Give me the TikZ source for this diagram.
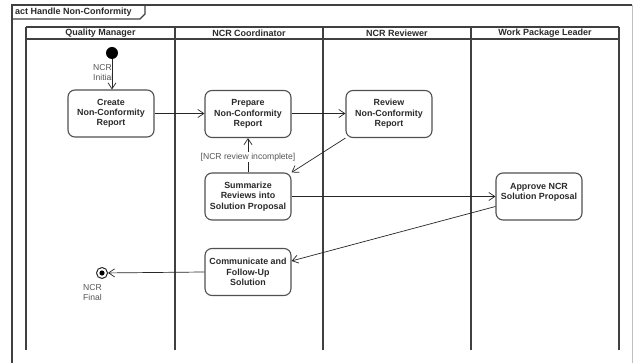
\documentclass[tikz,border=0pt]{standalone}
\usepackage{fontspec}
\setmainfont{Liberation Sans}
\usetikzlibrary{arrows.meta}
\definecolor{lanec}{HTML}{404040}
\definecolor{boxc}{HTML}{505050}
\definecolor{txtc}{HTML}{2A2A2A}
\definecolor{lblc}{HTML}{555555}
\tikzset{
  act/.style={draw=boxc, line width=1.1pt, rounded corners=7pt, minimum width=86pt, minimum height=47pt,
    align=center, inner sep=1pt, text=txtc, font=\fontsize{8.9}{10.3}\selectfont\bfseries},
  flow/.style={draw=black!85, line width=0.7pt, -{Straight Barb[length=6pt,width=8pt]}},
  lbl/.style={text=lblc, font=\fontsize{8.6}{10}\selectfont, align=left, inner sep=0pt},
  lane/.style={draw=lanec, line width=1.2pt},
  hdr/.style={font=\fontsize{9}{10}\selectfont\bfseries, text=txtc, inner sep=0pt}
}
\begin{document}
\begin{tikzpicture}[x=1pt, y=-1pt]
\useasboundingbox (0,0) rectangle (633,363);
\fill[white] (0,0) rectangle (633,363);
% frame
\draw[lanec, line width=1.2pt] (12,363) -- (12,5) -- (632,5);
\draw[black!25, line width=0.8pt] (632,5) -- (632,363);
\draw[lanec, line width=1.2pt] (12,19) -- (140,19) -- (145,14) -- (145,5);
\node[hdr, anchor=west] (title) at (15,12) {act Handle Non-Conformity};
% lanes
\draw[lane] (26,27) -- (619,27);
\draw[lane] (26,39) -- (619,39);
\foreach \x in {26,175,323,471,619} \draw[lane] (\x,27) -- (\x,350);
\node[hdr] (h1) at (100.5,33) {Quality Manager};
\node[hdr] (h2) at (249,33) {NCR Coordinator};
\node[hdr] (h3) at (397,33) {NCR Reviewer};
\node[hdr] (h4) at (545,33) {Work Package Leader};
% nodes
\node[circle, fill=black, minimum size=12pt, inner sep=0pt] (init) at (112,53) {};
\node[lbl, anchor=north west] (initl) at (93,64) {NCR\\Initial};
\node[act] (create) at (111,113.5) {Create\\Non-Conformity\\Report};
\node[act] (prepare) at (248,114) {Prepare\\Non-Conformity\\Report};
\node[act] (review) at (389,114) {Review\\Non-Conformity\\Report};
\node[act] (summ) at (248,196.5) {Summarize\\Reviews into\\Solution Proposal};
\node[act] (approve) at (539,196.5) {Approve NCR\\Solution Proposal\\~};
\node[act] (comm) at (248,272) {Communicate and\\Follow-Up\\Solution};
\node[circle, draw=black!85, line width=1pt, minimum size=11pt, inner sep=0pt] (final) at (102,273) {};
\fill[black] (final.center) circle (2.6pt);
\node[lbl, anchor=north west] (finall) at (83,284) {NCR\\Final};
% flows
\draw[flow] (init) -- (create.north -| init);
\draw[flow] (create.east) -- (prepare.west |- create.east);
\draw[flow] (prepare.east |- create.east) -- (review.west |- create.east);
\draw[flow] (review.south west) -- (summ.north east);
\draw[flow] (summ.north) -- node[lbl, fill=white, inner sep=1pt, pos=0.45] (guard) {[NCR review incomplete]} (prepare.south);
\draw[flow] (summ.east) -- (approve.west |- summ.east);
\draw[flow] ([yshift=-10pt]approve.west) -- ([yshift=-13pt]comm.north east);
\draw[flow] (comm.west) -- (final);
\end{tikzpicture}
\end{document}
